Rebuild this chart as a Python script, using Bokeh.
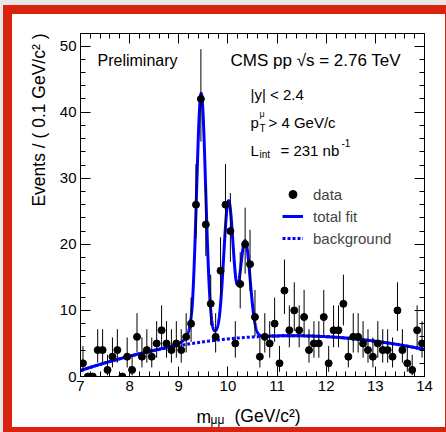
import numpy as np
from bokeh.plotting import figure
from bokeh.models import (Label, LinearAxis, SingleIntervalTicker, Legend,
                          LegendItem, Range1d)
from bokeh.embed import file_html
from bokeh.resources import INLINE

# ---------------- data (events per 0.1 GeV/c^2 bin, 7..14 GeV/c^2) ----------------
counts = [2, 0, 0, 4, 4, 1, 3, 4, 0, 3,
          1, 6, 3, 4, 3, 5, 7, 5, 4, 5,
          4, 6, 8, 26, 42, 23, 11, 6, 16, 26,
          22, 5, 14, 20, 17, 9, 3, 6, 5, 8,
          2, 13, 7, 10, 7, 9, 4, 5, 5, 9,
          2, 7, 7, 11, 3, 6, 6, 5, 4, 3,
          5, 4, 4, 3, 10, 4, 2, 1, 7, 5]
bin_low = 7.0
bin_width = 0.1

# fit model: polynomial background + three Crystal-Ball peaks
bg_coef = [0.9, 2.45, -0.285]          # in powers of (m - 7)
peak_mass = [9.455, 10.012, 10.350]    # Y(1S), Y(2S), Y(3S)
peak_sigma = [0.093, 0.098, 0.101]
peak_amp = [37.5, 20.5, 14.6]
cb_alpha = 1.8
cb_n = 3.0

x_ticks_label = ["7", "8", "9", "10", "11", "12", "13", "14"]

FONT = "Liberation Sans"
BLUE = "#0000ff"
RED = "#d9230f"

# ---------------- derived arrays ----------------
n = np.array(counts, dtype=float)
centers = bin_low + bin_width * (np.arange(len(counts)) + 0.5)
# Garwood (Poisson) 68% intervals, Wilson-Hilferty approximation
with np.errstate(divide="ignore", invalid="ignore"):
    lo = np.where(n > 0, n * (1 - 1 / (9 * n) - 1 / (3 * np.sqrt(n))) ** 3, 0.0)
hi = (n + 1) * (1 - 1 / (9 * (n + 1)) + 1 / (3 * np.sqrt(n + 1))) ** 3
has = n > 0

xf = np.linspace(7.0, 14.0, 3501)


def background(x):
    t = x - 7.0
    return bg_coef[0] + bg_coef[1] * t + bg_coef[2] * t ** 2


def crystal_ball(x, m, s, a, alpha, nn):
    t = (x - m) / s
    A = (nn / alpha) ** nn * np.exp(-alpha ** 2 / 2)
    B = nn / alpha - alpha
    tail_arg = np.maximum(B - t, 1e-9)
    return a * np.where(t > -alpha, np.exp(-t ** 2 / 2), A * tail_arg ** (-nn))


bg = background(xf)
total = bg.copy()
for m, s, a in zip(peak_mass, peak_sigma, peak_amp):
    total += crystal_ball(xf, m, s, a, cb_alpha, cb_n)

# ---------------- figure ----------------
p = figure(width=446, height=432, x_range=Range1d(7, 14), y_range=Range1d(0, 51.9),
           output_backend="svg", toolbar_location=None,
           min_border_left=80, min_border_right=22, min_border_top=33, min_border_bottom=56)
p.xgrid.visible = False
p.ygrid.visible = False
p.outline_line_color = "black"
p.outline_line_width = 1
p.background_fill_color = "white"
p.border_fill_alpha = 0
p.styles = {"background-color": "white",
            "box-shadow": (f"inset 3px 5px 0 0 #e6e6e6, inset 12px 14px 0 0 {RED}, "
                           f"inset -1px -5px 0 0 {RED}")}


def style_axis(ax):
    ax.major_tick_in = 10
    ax.major_tick_out = 0
    ax.minor_tick_in = 5
    ax.minor_tick_out = 0
    ax.axis_line_color = "black"
    ax.major_tick_line_color = "black"
    ax.minor_tick_line_color = "black"
    ax.major_label_text_font = FONT
    ax.major_label_text_font_size = "15px"
    ax.major_label_text_color = "black"
    ax.major_label_standoff = 4


p.xaxis.ticker = SingleIntervalTicker(interval=1, num_minor_ticks=5)
p.yaxis.ticker = SingleIntervalTicker(interval=10, num_minor_ticks=5)
p.xaxis.major_label_overrides = {i + 7: s for i, s in enumerate(x_ticks_label)}
style_axis(p.xaxis[0])
style_axis(p.yaxis[0])
ax_top = LinearAxis(ticker=SingleIntervalTicker(interval=1, num_minor_ticks=5))
ax_right = LinearAxis(ticker=SingleIntervalTicker(interval=10, num_minor_ticks=5))
style_axis(ax_top)
style_axis(ax_right)
ax_top.major_label_overrides = {v: "" for v in range(7, 15)}
ax_right.major_label_overrides = {v: "" for v in range(0, 60, 10)}
p.add_layout(ax_top, "above")
p.add_layout(ax_right, "right")

# ---------------- glyphs ----------------
r_bg = p.line(xf, bg, line_color=BLUE, line_width=3, line_dash="3 2")
r_tot = p.line(xf, total, line_color=BLUE, line_width=3)
p.segment(x0=centers[has], y0=lo[has], x1=centers[has], y1=hi[has],
          line_color="black", line_width=1)
r_pts = p.scatter(centers, n, size=7, fill_color="black", line_color="black")

legend = Legend(items=[LegendItem(label="data", renderers=[r_pts]),
                       LegendItem(label="total fit", renderers=[r_tot]),
                       LegendItem(label="background", renderers=[r_bg])],
                location=(202, 128), border_line_alpha=0, background_fill_alpha=0,
                label_text_font=FONT, label_text_font_size="15px",
                glyph_width=21, glyph_height=20, label_height=20,
                label_standoff=10, spacing=2, padding=0, margin=0)
p.add_layout(legend)

# ---------------- texts ----------------
FL, FB = 80, 376


def lab(px, py, text, size=16, align="left", baseline="alphabetic", angle=0.0,
        place=None, panel_left=FL, panel_bottom=FB):
    lbl = Label(x=px - panel_left, y=panel_bottom - py, x_units="screen", y_units="screen",
                text=text, text_font=FONT, text_font_size=f"{size}px",
                text_align=align, text_baseline=baseline, text_color="black",
                angle=angle)
    if place is None:
        p.add_layout(lbl)
    else:
        p.add_layout(lbl, place)


lab(97, 60, "Preliminary")
lab(230, 60, "CMS pp \u221as = 2.76 TeV", 17)
lab(250, 94, "|y| < 2.4", 15)
lab(250, 122, "p", 15)
lab(259, 113, "\u03bc", 9)
lab(259, 128, "T", 10)
lab(268, 122, "> 4 GeV/c", 15)
lab(250, 150, "L", 15)
lab(259, 154, "int", 10)
lab(280, 150, "= 231 nb", 15)
lab(341, 142, "-1", 10)

# axis titles: side panels (not clipped); positions relative to each panel's box
lab(234, 416, "(GeV/c\u00b2)", 17.5, place="below", panel_left=80, panel_bottom=414)
lab(44, 33, "Events / ( 0.1 GeV/c\u00b2 )", 17.5, align="right", angle=np.pi / 2,
    place="left", panel_left=42, panel_bottom=376)
lab(203, 416, "m", 17.5, place="left", panel_left=28, panel_bottom=376)
lab(218, 419, "\u03bc\u03bc", 12, place="left", panel_left=15, panel_bottom=376)

open("out.html", "w").write(file_html(p, INLINE))
